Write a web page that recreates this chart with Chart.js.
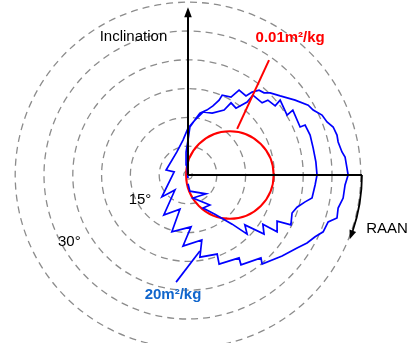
<!DOCTYPE html>
<html><head><meta charset="utf-8">
<script src="https://cdn.jsdelivr.net/npm/chart.js@4"></script>
<style>html,body{margin:0;padding:0;background:#fff;overflow:hidden}canvas{display:block}</style>
</head><body>
<canvas id="c" width="408" height="343"></canvas>
<script>
// polar grid rings (degrees of inclination)
const ringRadii = [1.1, 7.5, 15, 22.5, 30, 37.5, 45];
// inclination-vector path for 20 m2/kg (x = i·cosΩ, y = i·sinΩ, degrees)
const blueX = [0,-0.3,-0.5,0,0.5,2.1,3.1,4.9,6.5,8.1,8.9,11.2,13.3,15.1,16.7,18.5,19.8,21.4,24.0,27.9,31.3,32.6,34.9,36.2,37.8,38.8,39.1,40.1,40.9,41.4,41.7,40.9,40.4,39.1,38.8,36.5,35.2,33.1,31.0,28.4,24.5,19.3,19.0,13.8,13.3,8.1,7.6,3.1,
  3.6,-1.3,0.8,-4.2,-2.1,-6.3,-3.4,-6.8,-3.6,-5.7,-2.9,-1.3,0,
  1.8,3.9,6.3,9.4,11.2,12.5,15.4,16.9,19.3,20.8,22.7,24.0,25.8,27.3,29.2,30.5,31.8,32.6,33.3,33.6,33.1,32.3,30.5,28.4,27.1,26.8,23.2,23.2,19.5,19.8,14.8,15.4,11.5,7.0,3.9,5.7,1.3,4.7,0.5,0];
const blueY = [-0.8,2.6,6.0,9.1,12.5,14.8,16.1,16.9,18.0,19.5,20.8,20.3,22.1,20.6,21.6,22.1,21.4,21.4,20.6,19.5,18.2,16.9,15.6,13.8,12.5,10.4,8.6,6.0,4.7,1.8,0,-2.6,-6.0,-8.6,-11.2,-12.2,-14.8,-16.1,-17.7,-19.0,-21.1,-23.2,-21.6,-23.4,-21.6,-23.2,-20.6,-21.4,
  -16.9,-18.5,-13.5,-14.8,-8.9,-10.4,-3.9,-5.7,0.8,1.3,6.0,9.1,12.2,
  14.3,16.4,16.1,16.9,18.8,17.4,19.0,20.8,18.8,19.5,18.0,19.5,15.6,16.9,12.5,13.0,10.4,7.0,3.4,0,-2.6,-6.0,-7.0,-8.4,-9.9,-13.0,-12.0,-14.8,-12.8,-15.4,-13.0,-15.4,-12.8,-10.2,-8.6,-7.8,-6.0,-4.9,-4.2,-2.3];
const bluePointerX = [-3.1, 3.1];
const bluePointerY = [-27.9, -19.8];
// 0.01 m2/kg: circle
const redCircleCenterX = [10.9];
const redCircleCenterY = [0];
const redCircleRadius = [11.4];
const redPointerX = [12.8, 21.1];
const redPointerY = [12.0, 29.9];
// axes
const inclinationAxisLength = [43.7];
const raanAxisLength = [45.3];
const raanArrowSweepDeg = [20.5];
// labels
const labelTexts = ["Inclination", "0.01m²/kg", "20m²/kg", "15°", "30°", "RAAN"];
const labelX = [-14.2, 26.6, -3.9, -12.5, -30.9, 46.4];
const labelY = [35.9, 35.8, -31.3, -6.4, -17.3, -14.1];

const labelStyle = [
  {color:'#000', font:'15px "Liberation Sans", Arial', align:'center'},
  {color:'#ff0000', font:'bold 15px "Liberation Sans", Arial', align:'center'},
  {color:'#1166cc', font:'bold 15px "Liberation Sans", Arial', align:'center'},
  {color:'#000', font:'15px "Liberation Sans", Arial', align:'center'},
  {color:'#000', font:'15px "Liberation Sans", Arial', align:'center'},
  {color:'#000', font:'15px "Liberation Sans", Arial', align:'left'}
];

const toPts = (xs, ys) => xs.map((x, i) => ({x, y: ys[i]}));

function arrowHead(ctx, tx, ty, dx, dy, len, half) {
  const n = Math.hypot(dx, dy); dx /= n; dy /= n;
  ctx.beginPath();
  ctx.moveTo(tx, ty);
  ctx.lineTo(tx - dx*len - dy*half, ty - dy*len + dx*half);
  ctx.lineTo(tx - dx*len + dy*half, ty - dy*len - dx*half);
  ctx.closePath();
  ctx.fill();
}

const polarPlugin = {
  id: 'polar',
  beforeDatasetsDraw(chart) {
    const ctx = chart.ctx, xs = chart.scales.x, ys = chart.scales.y;
    const cx = xs.getPixelForValue(0), cy = ys.getPixelForValue(0);
    const unit = xs.getPixelForValue(1) - cx;
    ctx.save();
    ctx.strokeStyle = '#8c8c8c';
    ctx.lineWidth = 1.3;
    ctx.setLineDash([7, 5]);
    ringRadii.forEach(r => {
      ctx.beginPath(); ctx.arc(cx, cy, r*unit, 0, Math.PI*2); ctx.stroke();
    });
    ctx.setLineDash([]);
    // red circle
    ctx.strokeStyle = '#ff0000';
    ctx.lineWidth = 2;
    redCircleRadius.forEach((r, i) => {
      ctx.beginPath();
      ctx.arc(xs.getPixelForValue(redCircleCenterX[i]), ys.getPixelForValue(redCircleCenterY[i]), r*unit, 0, Math.PI*2);
      ctx.stroke();
    });
    ctx.restore();
  },
  afterDatasetsDraw(chart) {
    const ctx = chart.ctx, xs = chart.scales.x, ys = chart.scales.y;
    const cx = xs.getPixelForValue(0), cy = ys.getPixelForValue(0);
    const unit = xs.getPixelForValue(1) - cx;
    ctx.save();
    ctx.strokeStyle = '#000'; ctx.fillStyle = '#000'; ctx.lineWidth = 2;
    // inclination axis (up)
    const topY = ys.getPixelForValue(inclinationAxisLength[0]);
    ctx.beginPath(); ctx.moveTo(cx, cy); ctx.lineTo(cx, topY + 6); ctx.stroke();
    arrowHead(ctx, cx, topY, 0, -1, 10, 3.8);
    // RAAN axis (right)
    const R = raanAxisLength[0]*unit;
    ctx.beginPath(); ctx.moveTo(cx, cy); ctx.lineTo(cx + R, cy); ctx.stroke();
    // curved RAAN arrow
    const a = raanArrowSweepDeg[0]*Math.PI/180;
    ctx.lineWidth = 1.8;
    ctx.beginPath(); ctx.arc(cx, cy, R, 0, a - 0.03); ctx.stroke();
    arrowHead(ctx, cx + R*Math.cos(a+0.02), cy + R*Math.sin(a+0.02), -Math.sin(a), Math.cos(a), 9, 3.5);
    // labels
    ctx.textBaseline = 'middle';
    labelTexts.forEach((t, i) => {
      const s = labelStyle[i];
      ctx.font = s.font; ctx.fillStyle = s.color; ctx.textAlign = s.align;
      ctx.fillText(t, xs.getPixelForValue(labelX[i]), ys.getPixelForValue(labelY[i]));
    });
    ctx.restore();
  }
};

new Chart(document.getElementById('c'), {
  type: 'scatter',
  data: {
    datasets: [
      {data: toPts(redPointerX, redPointerY), showLine: true, borderColor: '#ff0000', borderWidth: 2, pointRadius: 0},
      {data: toPts(bluePointerX, bluePointerY), showLine: true, borderColor: '#0000ff', borderWidth: 1.7, pointRadius: 0},
      {data: toPts(blueX, blueY), showLine: true, borderColor: '#0000ff', borderWidth: 1.7, pointRadius: 0, tension: 0}
    ]
  },
  options: {
    responsive: false, animation: false, devicePixelRatio: 1, events: [],
    layout: {padding: 0},
    plugins: {legend: {display: false}, tooltip: {enabled: false}},
    scales: {
      x: {type: 'linear', min: -48.958, max: 57.292, display: false},
      y: {type: 'linear', min: -43.75, max: 45.573, display: false}
    }
  },
  plugins: [polarPlugin]
});
</script>
</body></html>
